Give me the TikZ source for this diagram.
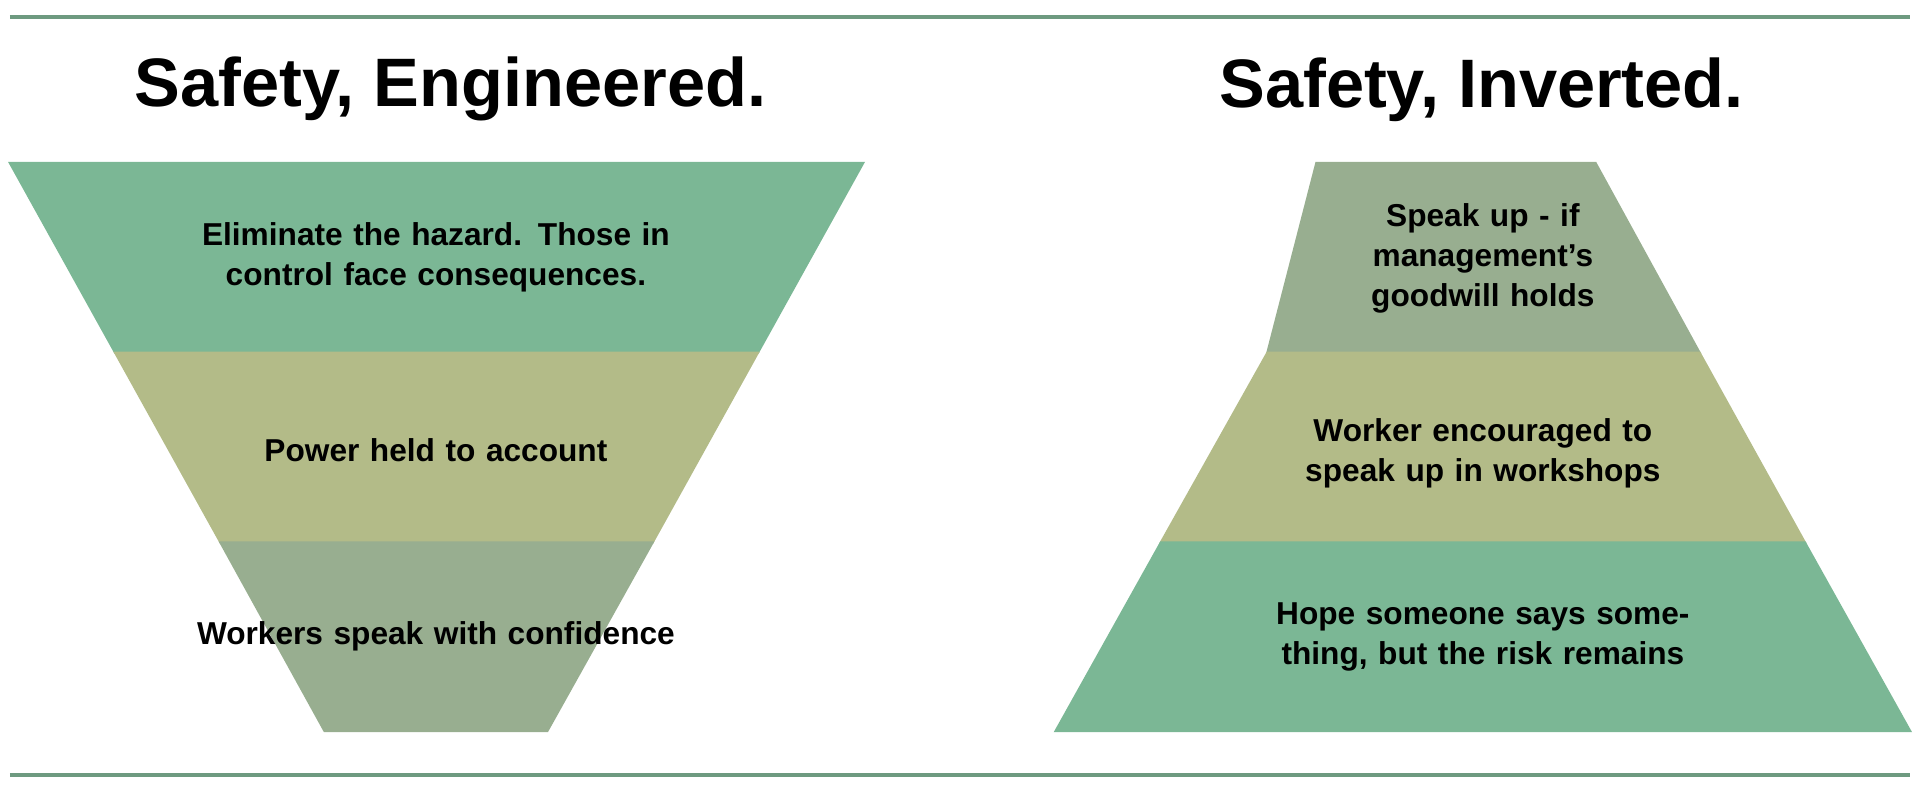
\documentclass[tikz,border=0pt]{standalone}
\usepackage{fontspec}
\setmainfont{Liberation Sans}
\usetikzlibrary{positioning}
\definecolor{bandgreen}{RGB}{123,183,149}
\definecolor{bandolive}{RGB}{179,187,136}
\definecolor{bandsage}{RGB}{152,174,144}
\definecolor{rulegreen}{RGB}{110,154,128}

\begin{document}
\begin{tikzpicture}[x=0.012245cm, y=-0.012245cm,
  band/.style={draw=white, line width=0.6pt},
  label/.style={align=center, font=\fontsize{9}{11.5}\selectfont\bfseries, text width=5.6cm},
  heading/.style={font=\fontsize{19.5}{22}\selectfont\bfseries}
]
\useasboundingbox (0,0) rectangle (1568,644);
\draw[rulegreen, line width=1.2pt] (8,14) -- (1560,14);
\draw[rulegreen, line width=1.2pt] (8,633) -- (1560,633);

% left: funnel
\node[heading] (lhead) at (368,73) {Safety, Engineered.};
\fill[band, bandgreen] (8,133) -- (705,133) -- (619,288) -- (94,288) -- cycle;
\fill[band, bandolive] (94,288) -- (619,288) -- (533,443) -- (180,443) -- cycle;
\fill[band, bandsage] (180,443) -- (533,443) -- (447,597) -- (265,597) -- cycle;
\node[label] (ltop) at (356,210) {Eliminate the hazard. Those in control face consequences.};
\node[label] (lmid) at (356,368) {Power held to account};
\node[label] (lbot) at (356,520) {Workers speak with confidence};

% right: pyramid
\node[heading] (rhead) at (1210,73) {Safety, Inverted.};
\fill[band, bandsage] (1075,133) -- (1303,133) -- (1388,288) -- (1035,288) -- cycle;
\fill[band, bandolive] (1035,288) -- (1388,288) -- (1474,443) -- (948,443) -- cycle;
\fill[band, bandgreen] (948,443) -- (1474,443) -- (1560,597) -- (862,597) -- cycle;
\node[label, text width=2.6cm] (rtop) at (1211,211) {Speak up - if management's goodwill holds};
\node[label] (rmid) at (1211,370) {Worker encouraged to speak up in workshops};
\node[label] (rbot) at (1211,520) {Hope someone says something, but the risk remains};
\end{tikzpicture}
\end{document}
